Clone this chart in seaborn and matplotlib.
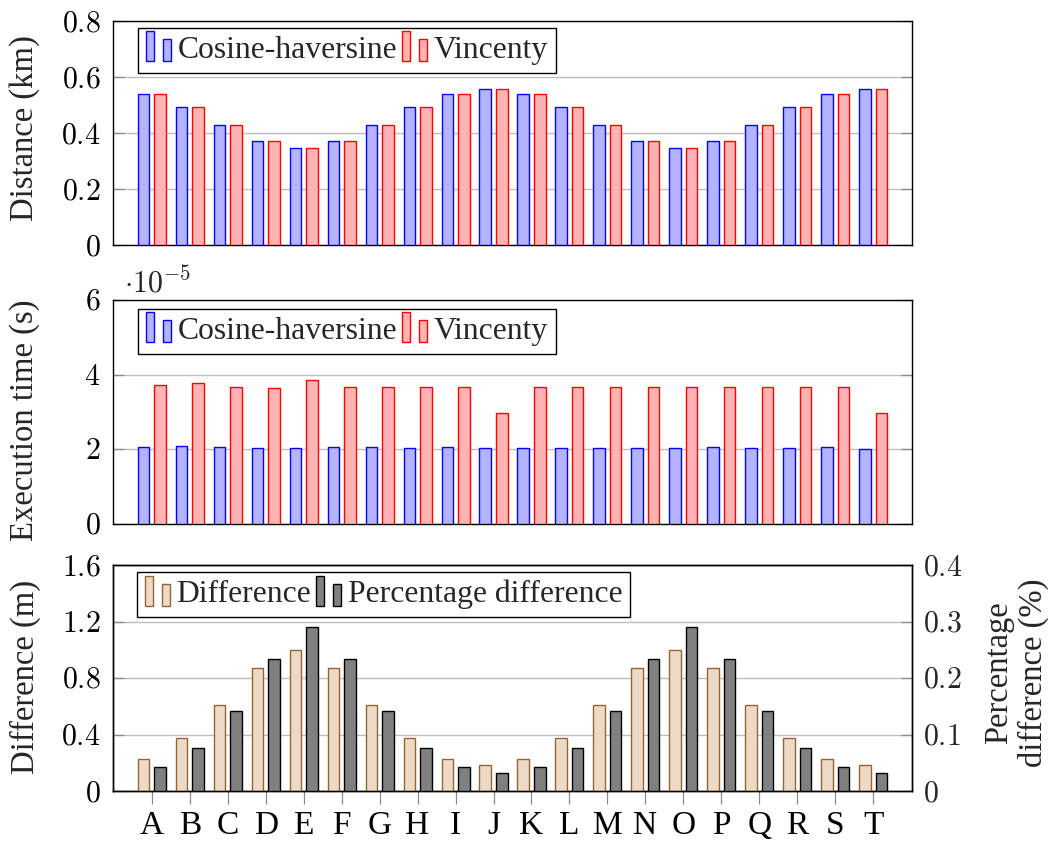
import numpy as np
import pandas as pd
import matplotlib
matplotlib.use("Agg")
import matplotlib.pyplot as plt
import seaborn as sns
from matplotlib.legend_handler import HandlerBase
from matplotlib.patches import Rectangle, Patch
from matplotlib.colors import to_rgb
from matplotlib.ticker import FixedLocator, FuncFormatter

# ---------------- data ----------------
categories = list("ABCDEFGHIJKLMNOPQRST")

dist_cosine = [0.540, 0.493, 0.430, 0.370, 0.345, 0.370, 0.430, 0.493, 0.540, 0.556,
               0.540, 0.493, 0.430, 0.370, 0.345, 0.370, 0.430, 0.493, 0.540, 0.556]
dist_vincenty = [0.540, 0.493, 0.430, 0.370, 0.345, 0.370, 0.430, 0.493, 0.540, 0.556,
                 0.540, 0.493, 0.430, 0.370, 0.345, 0.370, 0.430, 0.493, 0.540, 0.556]

time_cosine = [2.06e-5, 2.09e-5, 2.06e-5, 2.03e-5, 2.03e-5, 2.05e-5, 2.05e-5, 2.04e-5, 2.05e-5, 2.04e-5,
               2.04e-5, 2.04e-5, 2.04e-5, 2.04e-5, 2.04e-5, 2.05e-5, 2.04e-5, 2.04e-5, 2.05e-5, 2.02e-5]
time_vincenty = [3.71e-5, 3.77e-5, 3.67e-5, 3.65e-5, 3.86e-5, 3.66e-5, 3.66e-5, 3.67e-5, 3.66e-5, 2.98e-5,
                 3.66e-5, 3.67e-5, 3.66e-5, 3.66e-5, 3.66e-5, 3.66e-5, 3.67e-5, 3.66e-5, 3.67e-5, 2.98e-5]

diff_m = [0.230, 0.377, 0.607, 0.870, 1.000, 0.870, 0.607, 0.377, 0.230, 0.183,
          0.230, 0.377, 0.607, 0.870, 1.000, 0.870, 0.607, 0.377, 0.230, 0.183]
pct_diff = [0.0426, 0.0764, 0.141, 0.2345, 0.290, 0.2345, 0.141, 0.0764, 0.0426, 0.031,
            0.0426, 0.0764, 0.141, 0.2345, 0.290, 0.2345, 0.141, 0.0764, 0.0426, 0.031]

dist_ticks = [0, 0.2, 0.4, 0.6, 0.8]
time_ticks = [0, 2e-5, 4e-5, 6e-5]
diff_ticks = [0, 0.4, 0.8, 1.2, 1.6]
pct_ticks = [0, 0.1, 0.2, 0.3, 0.4]

names_top = ["Cosine-haversine", "Vincenty"]
names_bot = ["Difference", "Percentage difference"]

# ---------------- style ----------------
sns.set_theme(style="white")
plt.rcParams["font.family"] = ["Liberation Serif", "DejaVu Serif"]
plt.rcParams["mathtext.fontset"] = "cm"

BLUE_F, BLUE_E = (179/255, 179/255, 1.0), (0, 0, 1.0)
RED_F, RED_E = (1.0, 179/255, 179/255), (1.0, 0, 0)
TAN_F, TAN_E = (236/255, 217/255, 198/255), (150/255, 100/255, 50/255)
GRY_F, GRY_E = (128/255, 128/255, 128/255), (0, 0, 0)

FS = 23.5
LEGFS = 22.8
TICKFS = 21.5

W, H = 1053, 842
fig = plt.figure(figsize=(W/100, H/100), dpi=100)

def frac_axes(left, top, right, bottom):
    return fig.add_axes([left/W, 1-bottom/H, (right-left)/W, (bottom-top)/H])

ax1 = frac_axes(113, 21, 912, 245)
ax2 = frac_axes(113, 300, 912, 524)
ax3 = frac_axes(113, 565, 912, 791)


class TwinBarHandler(HandlerBase):
    def create_artists(self, legend, orig_handle, xdescent, ydescent,
                       width, height, fontsize, trans):
        fc = orig_handle.get_facecolor()
        ec = orig_handle.get_edgecolor()
        bw = width * 0.33
        base = -ydescent - 0.15 * height
        r1 = Rectangle((-xdescent, base), bw, height * 1.35, facecolor=fc,
                       edgecolor=ec, lw=1.0, transform=trans)
        r2 = Rectangle((-xdescent + width - bw, base), bw, height * 1.0,
                       facecolor=fc, edgecolor=ec, lw=1.0, transform=trans)
        return [r1, r2]


def bars(ax, values, series, order, faces, edges):
    df = pd.DataFrame({"cat": categories * len(series),
                       "val": [v for vals in values for v in vals],
                       "series": [s for s, vals in zip(series, values) for _ in vals]})
    sns.barplot(data=df, x="cat", y="val", hue="series", hue_order=order,
                order=categories, palette=dict(zip(order, faces)), saturation=1,
                width=0.88, gap=0.32, dodge=True, errorbar=None, linewidth=1.0,
                legend=False, ax=ax, zorder=3)
    # outline colour follows the fill colour of each series
    for p in ax.patches:
        fc = p.get_facecolor()[:3]
        for face, edge in zip(faces, edges):
            if np.allclose(fc, to_rgb(face), atol=0.01):
                p.set_edgecolor(edge)
                p.set_linewidth(1.0)


def style_axis(ax, ticks, fmt, right_ticks=True):
    ax.set_xlim(-1.02, 20.02)
    ax.set_xlabel("")
    ax.set_ylabel("")
    ax.yaxis.set_major_locator(FixedLocator(ticks))
    ax.yaxis.set_major_formatter(FuncFormatter(fmt))
    ax.set_ylim(ticks[0], ticks[-1])
    ax.tick_params(axis="y", which="both", direction="in", length=8, width=0.9,
                   color="#8a8a8a", labelsize=TICKFS, pad=9, left=True,
                   right=right_ticks, labelcolor="black")
    ax.yaxis.grid(True, color="#bdbdbd", lw=1.0, zorder=0)
    ax.xaxis.grid(False)
    ax.set_axisbelow(True)
    for sp in ax.spines.values():
        sp.set_color("black")
        sp.set_linewidth(1.0)
        sp.set_visible(True)


def num_fmt(dec, scale=1.0):
    def f(v, p):
        v = v * scale
        if abs(v) < 1e-12:
            return r"$0$"
        return r"$%.*f$" % (dec, v)
    return f


# ---- panel 1: distance ----
bars(ax1, [dist_cosine, dist_vincenty], names_top, names_top,
     [BLUE_F, RED_F], [BLUE_E, RED_E])
style_axis(ax1, dist_ticks, num_fmt(1))
ax1.tick_params(axis="x", bottom=False, labelbottom=False)

# ---- panel 2: execution time ----
bars(ax2, [time_cosine, time_vincenty], names_top, names_top,
     [BLUE_F, RED_F], [BLUE_E, RED_E])
style_axis(ax2, time_ticks, num_fmt(0, 1e5))
ax2.tick_params(axis="x", bottom=False, labelbottom=False)
fig.text(124/W, 1-292/H, r"$\cdot 10^{-5}$", fontsize=TICKFS, ha="left", va="baseline")

# ---- panel 3: difference ----
bars(ax3, [diff_m], [names_bot[0]], names_bot, [TAN_F, GRY_F], [TAN_E, GRY_E])
style_axis(ax3, diff_ticks, num_fmt(1), right_ticks=False)
ax3r = ax3.twinx()
bars(ax3r, [pct_diff], [names_bot[1]], names_bot, [TAN_F, GRY_F], [TAN_E, GRY_E])
ax3r.set_xlim(-1.02, 20.02)
ax3r.set_ylabel("")
ax3r.yaxis.set_major_locator(FixedLocator(pct_ticks))
ax3r.yaxis.set_major_formatter(FuncFormatter(num_fmt(1)))
ax3r.set_ylim(0, 0.4)
ax3r.tick_params(axis="y", direction="in", length=8, width=0.9, color="#8a8a8a",
                 labelsize=TICKFS, pad=8, right=True, left=False)
ax3r.yaxis.grid(False)
for sp in ax3r.spines.values():
    sp.set_color("black")
    sp.set_linewidth(1.0)

ax3.set_xticks(range(len(categories)))
ax3.set_xticklabels(categories)
ax3.tick_params(axis="x", bottom=True, direction="out", length=9, width=0.9,
                color="#8a8a8a", labelsize=FS + 0.5, pad=5, labelcolor="black")
ax3r.tick_params(axis="x", bottom=False, labelbottom=False)

# ---- legends ----
leg_kw = dict(loc="upper left", ncol=2, fontsize=LEGFS, frameon=True,
              fancybox=False, framealpha=1, edgecolor="black",
              handlelength=0.8, handleheight=0.7, handletextpad=0.2,
              columnspacing=0.15, borderpad=0.25, borderaxespad=0)
hand_top = [Patch(facecolor=BLUE_F, edgecolor=BLUE_E), Patch(facecolor=RED_F, edgecolor=RED_E)]
hand_bot = [Patch(facecolor=TAN_F, edgecolor=TAN_E), Patch(facecolor=GRY_F, edgecolor=GRY_E)]
hm = {Patch: TwinBarHandler()}
for ax, off in ((ax1, 0.969), (ax2, 0.96)):
    lg = ax.legend(hand_top, names_top, bbox_to_anchor=(0.0313, off),
                   handler_map=hm, **leg_kw)
    lg.get_frame().set_linewidth(1.0)
    lg.set_zorder(10)
lg = ax3r.legend(hand_bot, names_bot, bbox_to_anchor=(0.0300, 0.969),
                 handler_map=hm, **leg_kw)
lg.get_frame().set_linewidth(1.0)
lg.set_zorder(10)

# ---- axis labels ----
fig.text(25/W, 1-128/H, "Distance (km)", rotation=90, ha="center", va="center", fontsize=FS)
fig.text(25/W, 1-420/H, "Execution time (s)", rotation=90, ha="center", va="center", fontsize=FS)
fig.text(25/W, 1-677/H, "Difference (m)", rotation=90, ha="center", va="center", fontsize=FS)
fig.text(1016/W, 1-673/H, "Percentage\ndifference (%)", rotation=90, ha="center",
         va="center", multialignment="center", fontsize=FS, linespacing=1.15)

fig.savefig("out.png", dpi=100)
